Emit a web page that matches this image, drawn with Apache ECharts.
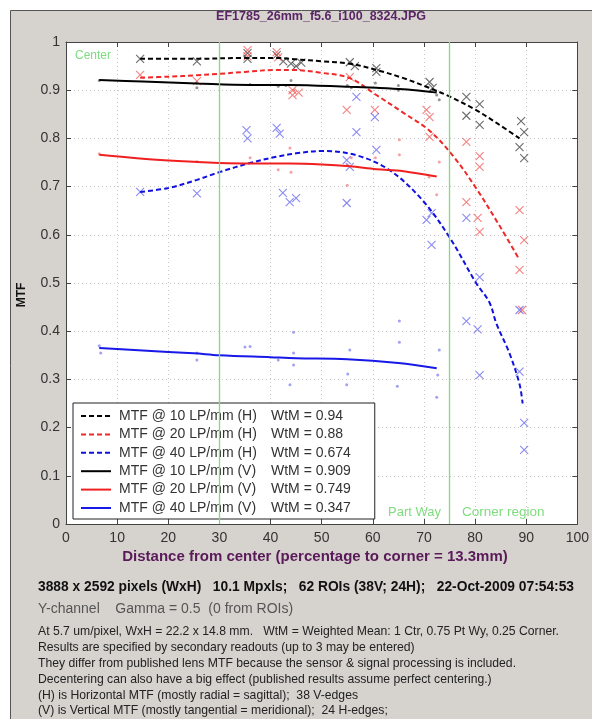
<!DOCTYPE html>
<html><head><meta charset="utf-8">
<script src="https://cdn.jsdelivr.net/npm/echarts@6/dist/echarts.min.js"></script>
<style>html,body{margin:0;padding:0;background:#fff;}#c{width:592px;height:719px;}</style>
</head><body><div id="c"></div>
<script>
// ---- Data ----
const seriesNames = ['MTF @ 10 LP/mm (H)','MTF @ 20 LP/mm (H)','MTF @ 40 LP/mm (H)','MTF @ 10 LP/mm (V)','MTF @ 20 LP/mm (V)','MTF @ 40 LP/mm (V)'];
const wtm = ['0.94','0.88','0.674','0.909','0.749','0.347'];

const h10Line = [[14.5,0.965],[25,0.965],[35,0.967],[41,0.967],[45,0.964],[50,0.96],[55.5,0.955],[60.7,0.942],[66,0.925],[71,0.905],[75,0.887],[80,0.86],[84.5,0.83],[88.7,0.80]];
const h20Line = [[14.5,0.926],[20,0.928],[25.6,0.931],[30,0.934],[35,0.938],[41,0.942],[44,0.942],[50,0.936],[55.5,0.925],[60.7,0.89],[66,0.853],[71,0.817],[75.6,0.765],[80,0.70],[85,0.615],[88.7,0.548]];
const h40Line = [[14.5,0.689],[20,0.697],[25.6,0.714],[30,0.73],[36,0.749],[41.2,0.762],[45,0.769],[50.2,0.774],[56.8,0.765],[63.3,0.734],[69.7,0.672],[75,0.595],[80.2,0.50],[82.8,0.46],[84.2,0.415],[86.7,0.355],[88.7,0.29],[89.3,0.25]];
const v10Line = [[6.5,0.921],[15,0.918],[25.6,0.914],[36,0.911],[43.8,0.911],[55.5,0.907],[60.7,0.905],[66,0.902],[71,0.897],[72.5,0.895]];
const v20Line = [[6.5,0.766],[15,0.758],[25.6,0.751],[30,0.749],[36,0.748],[43.8,0.748],[50,0.746],[55.5,0.742],[60.7,0.736],[66,0.732],[72.5,0.721]];
const v40Line = [[6.5,0.365],[15,0.36],[25,0.354],[30,0.35],[40,0.346],[45,0.344],[55,0.342],[65,0.334],[72.5,0.323]];

const h10Pts = [[14.5,0.965],[25.6,0.96],[35.5,0.977],[35.5,0.965],[41.2,0.973],[42.5,0.96],[44,0.955],[45,0.95],[46,0.957],[55.5,0.958],[56.5,0.95],[60.7,0.946],[60.7,0.938],[71.1,0.917],[71.7,0.905],[78.3,0.886],[78.3,0.847],[80.9,0.871],[80.9,0.828],[89,0.836],[89.6,0.813],[88.7,0.782],[89.6,0.759]];
const h20Pts = [[14.5,0.932],[25.6,0.919],[35.5,0.983],[35.5,0.97],[41.2,0.979],[41.5,0.968],[44.3,0.9],[44.3,0.89],[45.5,0.895],[55.5,0.927],[54.9,0.859],[60.4,0.859],[70.5,0.859],[71.1,0.844],[71.1,0.803],[78.3,0.793],[80.9,0.763],[80.9,0.741],[78.3,0.668],[80.5,0.635],[80.9,0.606],[88.7,0.651],[89.6,0.589],[88.7,0.527],[89.2,0.444]];
const h40Pts = [[14.5,0.689],[25.6,0.686],[35.3,0.817],[35.5,0.80],[41.2,0.822],[41.8,0.81],[42.4,0.687],[43.75,0.668],[45,0.676],[54.9,0.755],[55.5,0.741],[56.8,0.886],[56.8,0.813],[54.9,0.666],[60.4,0.844],[60.7,0.776],[70.5,0.631],[71.5,0.645],[71.5,0.579],[78.3,0.635],[80.9,0.512],[78.3,0.421],[80.5,0.404],[80.9,0.309],[88.7,0.316],[89.6,0.21],[89.6,0.154],[88.7,0.444]];
const v10Pts = [[6.5,0.92],[25.6,0.915],[25.6,0.905],[36,0.912],[41.5,0.908],[43,0.91],[44,0.92],[55,0.91],[55.8,0.905],[60.5,0.915],[65,0.9],[65,0.91],[71.5,0.9],[72.5,0.89],[73,0.88]];
const v20Pts = [[6.5,0.768],[25.6,0.752],[36,0.76],[41.5,0.735],[43.8,0.78],[44,0.73],[44.5,0.9],[55,0.745],[55,0.703],[55.8,0.76],[60.5,0.76],[65.2,0.797],[65.2,0.766],[71,0.72],[72.5,0.683],[73,0.751]];
const v40Pts = [[6.5,0.37],[6.8,0.355],[25.6,0.355],[25.6,0.34],[35,0.367],[36,0.368],[41.5,0.34],[43.8,0.289],[44.5,0.398],[44.5,0.355],[44.5,0.33],[55.5,0.361],[55.1,0.311],[54.9,0.289],[65.2,0.421],[65.2,0.377],[64.8,0.286],[73,0.361],[72.7,0.309],[72.5,0.263]];

const regionLines = [30, 75];

const titleText = 'EF1785_26mm_f5.6_i100_8324.JPG';
const xLabel = 'Distance from center (percentage to corner = 13.3mm)';
const infoLine1 = '3888 x 2592 pixels (WxH)   10.1 Mpxls;   62 ROIs (38V; 24H);   22-Oct-2009 07:54:53';
const infoLine2 = 'Y-channel    Gamma = 0.5  (0 from ROIs)';
const notes = [
 'At 5.7 um/pixel, WxH = 22.2 x 14.8 mm.   WtM = Weighted Mean: 1 Ctr, 0.75 Pt Wy, 0.25 Corner.',
 'Results are specified by secondary readouts (up to 3 may be entered)',
 'They differ from published lens MTF because the sensor & signal processing is included.',
 'Decentering can also have a big effect (published results assume perfect centering.)',
 '(H) is Horizontal MTF (mostly radial = sagittal);  38 V-edges',
 '(V) is Vertical MTF (mostly tangential = meridional);  24 H-edges;'
];

// ---- Chart ----
const FONT = '"Liberation Sans", Arial, sans-serif';
const chart = echarts.init(document.getElementById('c'), null, {renderer:'canvas'});
const lineCol = ['#000000','#f02828','#1010e0','#000000','#f02020','#1818e8'];
const ptCol = ['rgba(40,40,40,0.85)','rgba(240,60,60,0.8)','rgba(60,60,235,0.75)','rgba(60,60,60,0.7)','rgba(240,90,90,0.7)','rgba(90,90,235,0.7)'];
const lines = [h10Line,h20Line,h40Line,v10Line,v20Line,v40Line];
const pts = [h10Pts,h20Pts,h40Pts,v10Pts,v20Pts,v40Pts];
const xPath = 'path://M0,0L10,10M10,0L0,10';
const GREEN = '#80dc80';

const series = [];
pts.forEach((p,i)=>{
  const isH = i<3;
  series.push({
    type:'scatter', name:'pts'+i, data:p, z:2, silent:true,
    symbol: isH ? xPath : 'circle',
    symbolSize: isH ? 8 : 3,
    itemStyle: isH ? {color:'rgba(0,0,0,0)', borderColor:ptCol[i], borderWidth:1.1} : {color:ptCol[i]}
  });
});
lines.forEach((l,i)=>{
  series.push({
    type:'line', name:seriesNames[i], data:l, smooth:0.35, showSymbol:false, symbol:'none', z:3,
    lineStyle:{color:lineCol[i], width:2, type: i<3 ? [5,3] : 'solid'},
    itemStyle:{color:lineCol[i]}
  });
});
series.push({
  type:'line', name:'regions', data:[], silent:true, z:1,
  itemStyle:{color:GREEN}, lineStyle:{color:GREEN},
  markLine:{symbol:['none','none'], silent:true, label:{show:false}, animation:false,
    itemStyle:{color:GREEN},
    lineStyle:{color:GREEN, type:'solid', width:1.3, opacity:1},
    emphasis:{disabled:true},
    data: regionLines.map(v=>({xAxis:v, lineStyle:{color:GREEN, type:'solid', width:1.3}}))}
});

const axisCommon = {
  axisLine:{show:true, onZero:false, lineStyle:{color:'#444', width:1}},
  axisTick:{show:true, inside:true, length:5, lineStyle:{color:'#444'}},
};

chart.setOption({
  backgroundColor:'#ffffff',
  animation:false,
  grid:{left:66, right:14, top:42, bottom:195, backgroundColor:'#ffffff', show:true, borderWidth:0},
  xAxis:[
    Object.assign({type:'value', min:0, max:100, interval:10, position:'bottom',
      axisLabel:{color:'#333', fontFamily:FONT, fontSize:14, margin:7},
      splitLine:{show:true, lineStyle:{color:'#c8c8c8', type:[1,3]}}}, axisCommon),
    Object.assign({type:'value', min:0, max:100, interval:10, position:'top',
      axisLabel:{show:false}, splitLine:{show:false}}, axisCommon)
  ],
  yAxis:[
    Object.assign({type:'value', min:0, max:1, interval:0.1, position:'left',
      axisLabel:{color:'#333', fontFamily:FONT, fontSize:14, margin:6},
      splitLine:{show:true, lineStyle:{color:'#c8c8c8', type:[1,3]}}}, axisCommon),
    Object.assign({type:'value', min:0, max:1, interval:0.1, position:'right',
      axisLabel:{show:false}, splitLine:{show:false}}, axisCommon)
  ],
  legend:{
    data: seriesNames, orient:'vertical', left:73, top:403,
    backgroundColor:'#ffffff', borderColor:'#222', borderWidth:1,
    padding:[6,24,4,7], itemGap:4.4, itemWidth:30, itemHeight:14,
    selectedMode:false,
    itemStyle:{opacity:0},
    formatter: name => '{a|'+name+'}{b|WtM = '+wtm[seriesNames.indexOf(name)]+'}',
    textStyle:{fontFamily:FONT, fontSize:14, color:'#333',
      rich:{a:{width:152, fontFamily:FONT, fontSize:14, color:'#333', padding:[0,0,0,3]}, b:{fontFamily:FONT, fontSize:14, color:'#333'}}}
  },
  graphic:[
    {type:'rect', z:-10, silent:true, shape:{x:10.5, y:10.5, width:590, height:720}, style:{fill:'#d6d3ce', stroke:'#555', lineWidth:1}},
    {type:'text', x:321, y:17, z:10, style:{text:titleText, font:'bold 12.5px '+FONT, fill:'#5a2466', align:'center', verticalAlign:'middle'}},
    {type:'text', x:315, y:557, z:10, style:{text:xLabel, font:'bold 15px '+FONT, fill:'#5a1a5a', align:'center', verticalAlign:'middle'}},
    {type:'text', x:22, y:295, rotation:Math.PI/2, z:10, style:{text:'MTF', font:'bold 12px '+FONT, fill:'#111', align:'center', verticalAlign:'middle'}},
    {type:'text', x:75, y:56, z:10, style:{text:'Center', font:'12px '+FONT, fill:GREEN, verticalAlign:'middle'}},
    {type:'text', x:388, y:512, z:10, style:{text:'Part Way', font:'13px '+FONT, fill:GREEN, verticalAlign:'middle'}},
    {type:'text', x:462, y:512, z:10, style:{text:'Corner region', font:'13.5px '+FONT, fill:GREEN, verticalAlign:'middle'}},
    {type:'text', x:38, y:587, z:10, style:{text:infoLine1, font:'bold 13.8px '+FONT, fill:'#111', verticalAlign:'middle'}},
    {type:'text', x:38, y:609, z:10, style:{text:infoLine2, font:'14px '+FONT, fill:'#555', verticalAlign:'middle'}}
  ].concat(notes.map((t,i)=>({type:'text', x:38, y:632+i*15.8, z:10, style:{text:t, font:'12.2px '+FONT, fill:'#222', verticalAlign:'middle'}}))),
  series: series
});
</script></body></html>
